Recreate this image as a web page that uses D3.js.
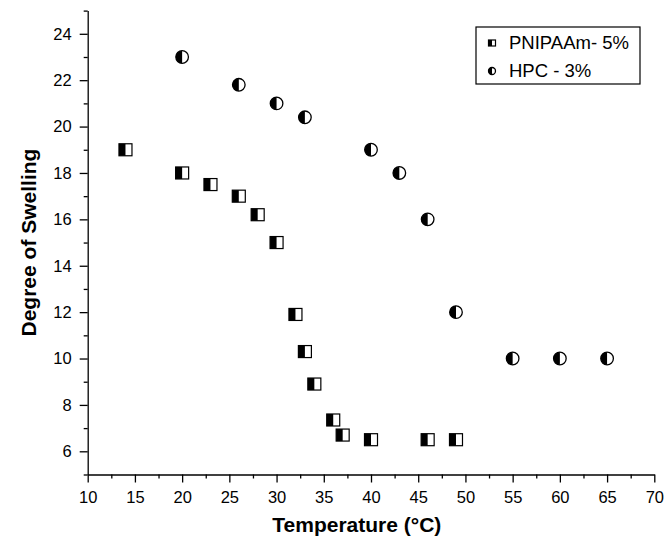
<!DOCTYPE html>
<html>
<head>
<meta charset="utf-8">
<script src="https://cdn.jsdelivr.net/npm/d3@7"></script>
<style>
  body { margin: 0; background: #fff; }
  svg { display: block; font-family: "Liberation Sans", Arial, sans-serif; }
  .axis path, .axis line { stroke: #000; stroke-width: 1.3; }
  .axis text { font-size: 16.5px; fill: #000; }
</style>
</head>
<body>
<div id="chart"></div>
<script>
// data
var pnipaamTemp = [14, 20, 23, 26, 28, 30, 32, 33, 34, 36, 37, 40, 46, 49];
var pnipaamSwell = [19.0, 18.0, 17.5, 17.0, 16.2, 15.0, 11.9, 10.3, 8.9, 7.35, 6.7, 6.5, 6.5, 6.5];
var hpcTemp = [20, 26, 30, 33, 40, 43, 46, 49, 55, 60, 65];
var hpcSwell = [23.0, 21.8, 21.0, 20.4, 19.0, 18.0, 16.0, 12.0, 10.0, 10.0, 10.0];
var xTicks = [10, 15, 20, 25, 30, 35, 40, 45, 50, 55, 60, 65, 70];
var yTicks = [6, 8, 10, 12, 14, 16, 18, 20, 22, 24];
var legendLabels = ["PNIPAAm- 5%", "HPC - 3%"];

var W = 666, H = 541;
var margin = {top: 10.6, right: 11.7, bottom: 66.5, left: 87.7};
var width = W - margin.left - margin.right;
var height = H - margin.top - margin.bottom;

var svg = d3.select("#chart").append("svg")
	.attr("width", W)
	.attr("height", H);

var g = svg.append("g")
	.attr("transform", "translate(" + margin.left + "," + margin.top + ")");

var x = d3.scaleLinear().domain([10, 70]).range([0, width]);
var y = d3.scaleLinear().domain([5, 25]).range([height, 0]);

// minor ticks first, then labelled majors
g.append("g").attr("class", "axis")
	.attr("transform", "translate(0," + height + ")")
	.call(d3.axisBottom(x).tickValues(d3.range(12.5, 70, 5)).tickSize(4).tickFormat(""))
	.select(".domain").remove();
g.append("g").attr("class", "axis")
	.attr("transform", "translate(0," + height + ")")
	.call(d3.axisBottom(x).tickValues(xTicks).tickSizeInner(8).tickSizeOuter(0).tickPadding(9));

g.append("g").attr("class", "axis")
	.call(d3.axisLeft(y).tickValues(d3.range(5, 26, 2)).tickSize(4).tickFormat(""))
	.select(".domain").remove();
g.append("g").attr("class", "axis")
	.call(d3.axisLeft(y).tickValues(yTicks).tickSizeInner(8).tickSizeOuter(0).tickPadding(8));

// axis titles
svg.append("text")
	.attr("x", margin.left + x(38.5))
	.attr("y", 532)
	.attr("text-anchor", "middle")
	.style("font-size", "21px").style("font-weight", "bold")
	.text("Temperature (°C)");

svg.append("text")
	.attr("transform", "translate(36," + (margin.top + y(15)) + ") rotate(-90)")
	.attr("text-anchor", "middle")
	.style("font-size", "21px").style("font-weight", "bold")
	.text("Degree of Swelling");

// half-filled square marker
function squareMarker(sel, s) {
	sel.append("rect")
		.attr("x", -s / 2).attr("y", -s / 2 + 0.5)
		.attr("width", s).attr("height", s - 1)
		.attr("fill", "#fff").attr("stroke", "#000").attr("stroke-width", 1.2);
	sel.append("rect")
		.attr("x", -s / 2).attr("y", -s / 2 + 0.5)
		.attr("width", s / 2).attr("height", s - 1)
		.attr("fill", "#000");
}

// half-filled circle marker (left half black)
function circleMarker(sel, r) {
	sel.append("circle")
		.attr("r", r)
		.attr("fill", "#fff").attr("stroke", "#000").attr("stroke-width", 1.3);
	sel.append("path")
		.attr("d", "M0," + (-r) + "A" + r + "," + r + " 0 0,0 0," + r + "Z")
		.attr("fill", "#000");
}

var pData = pnipaamTemp.map(function(t, i){ return [t, pnipaamSwell[i]]; });
var hData = hpcTemp.map(function(t, i){ return [t, hpcSwell[i]]; });

g.selectAll(".sq")
	.data(pData)
	.enter().append("g")
	.attr("class", "sq")
	.attr("transform", function(d){ return "translate(" + x(d[0]) + "," + y(d[1]) + ")"; })
	.each(function(){ squareMarker(d3.select(this), 13); });

g.selectAll(".ci")
	.data(hData)
	.enter().append("g")
	.attr("class", "ci")
	.attr("transform", function(d){ return "translate(" + x(d[0]) + "," + y(d[1]) + ")"; })
	.each(function(){ circleMarker(d3.select(this), 6.3); });

// legend
var lg = svg.append("g").attr("transform", "translate(476,27)");
lg.append("rect")
	.attr("width", 164).attr("height", 57)
	.attr("fill", "#fff").attr("stroke", "#000").attr("stroke-width", 1.2);

var rows = lg.selectAll(".row")
	.data(legendLabels)
	.enter().append("g")
	.attr("class", "row")
	.attr("transform", function(d, i){ return "translate(16," + (16 + i * 28) + ")"; });

rows.each(function(d, i){
	var r = d3.select(this);
	if (i === 0) squareMarker(r, 7);
	else circleMarker(r, 3.5);
});

rows.append("text")
	.attr("x", 17)
	.attr("dy", "0.35em")
	.style("font-size", "18.5px")
	.text(function(d){ return d; });
</script>
</body>
</html>
